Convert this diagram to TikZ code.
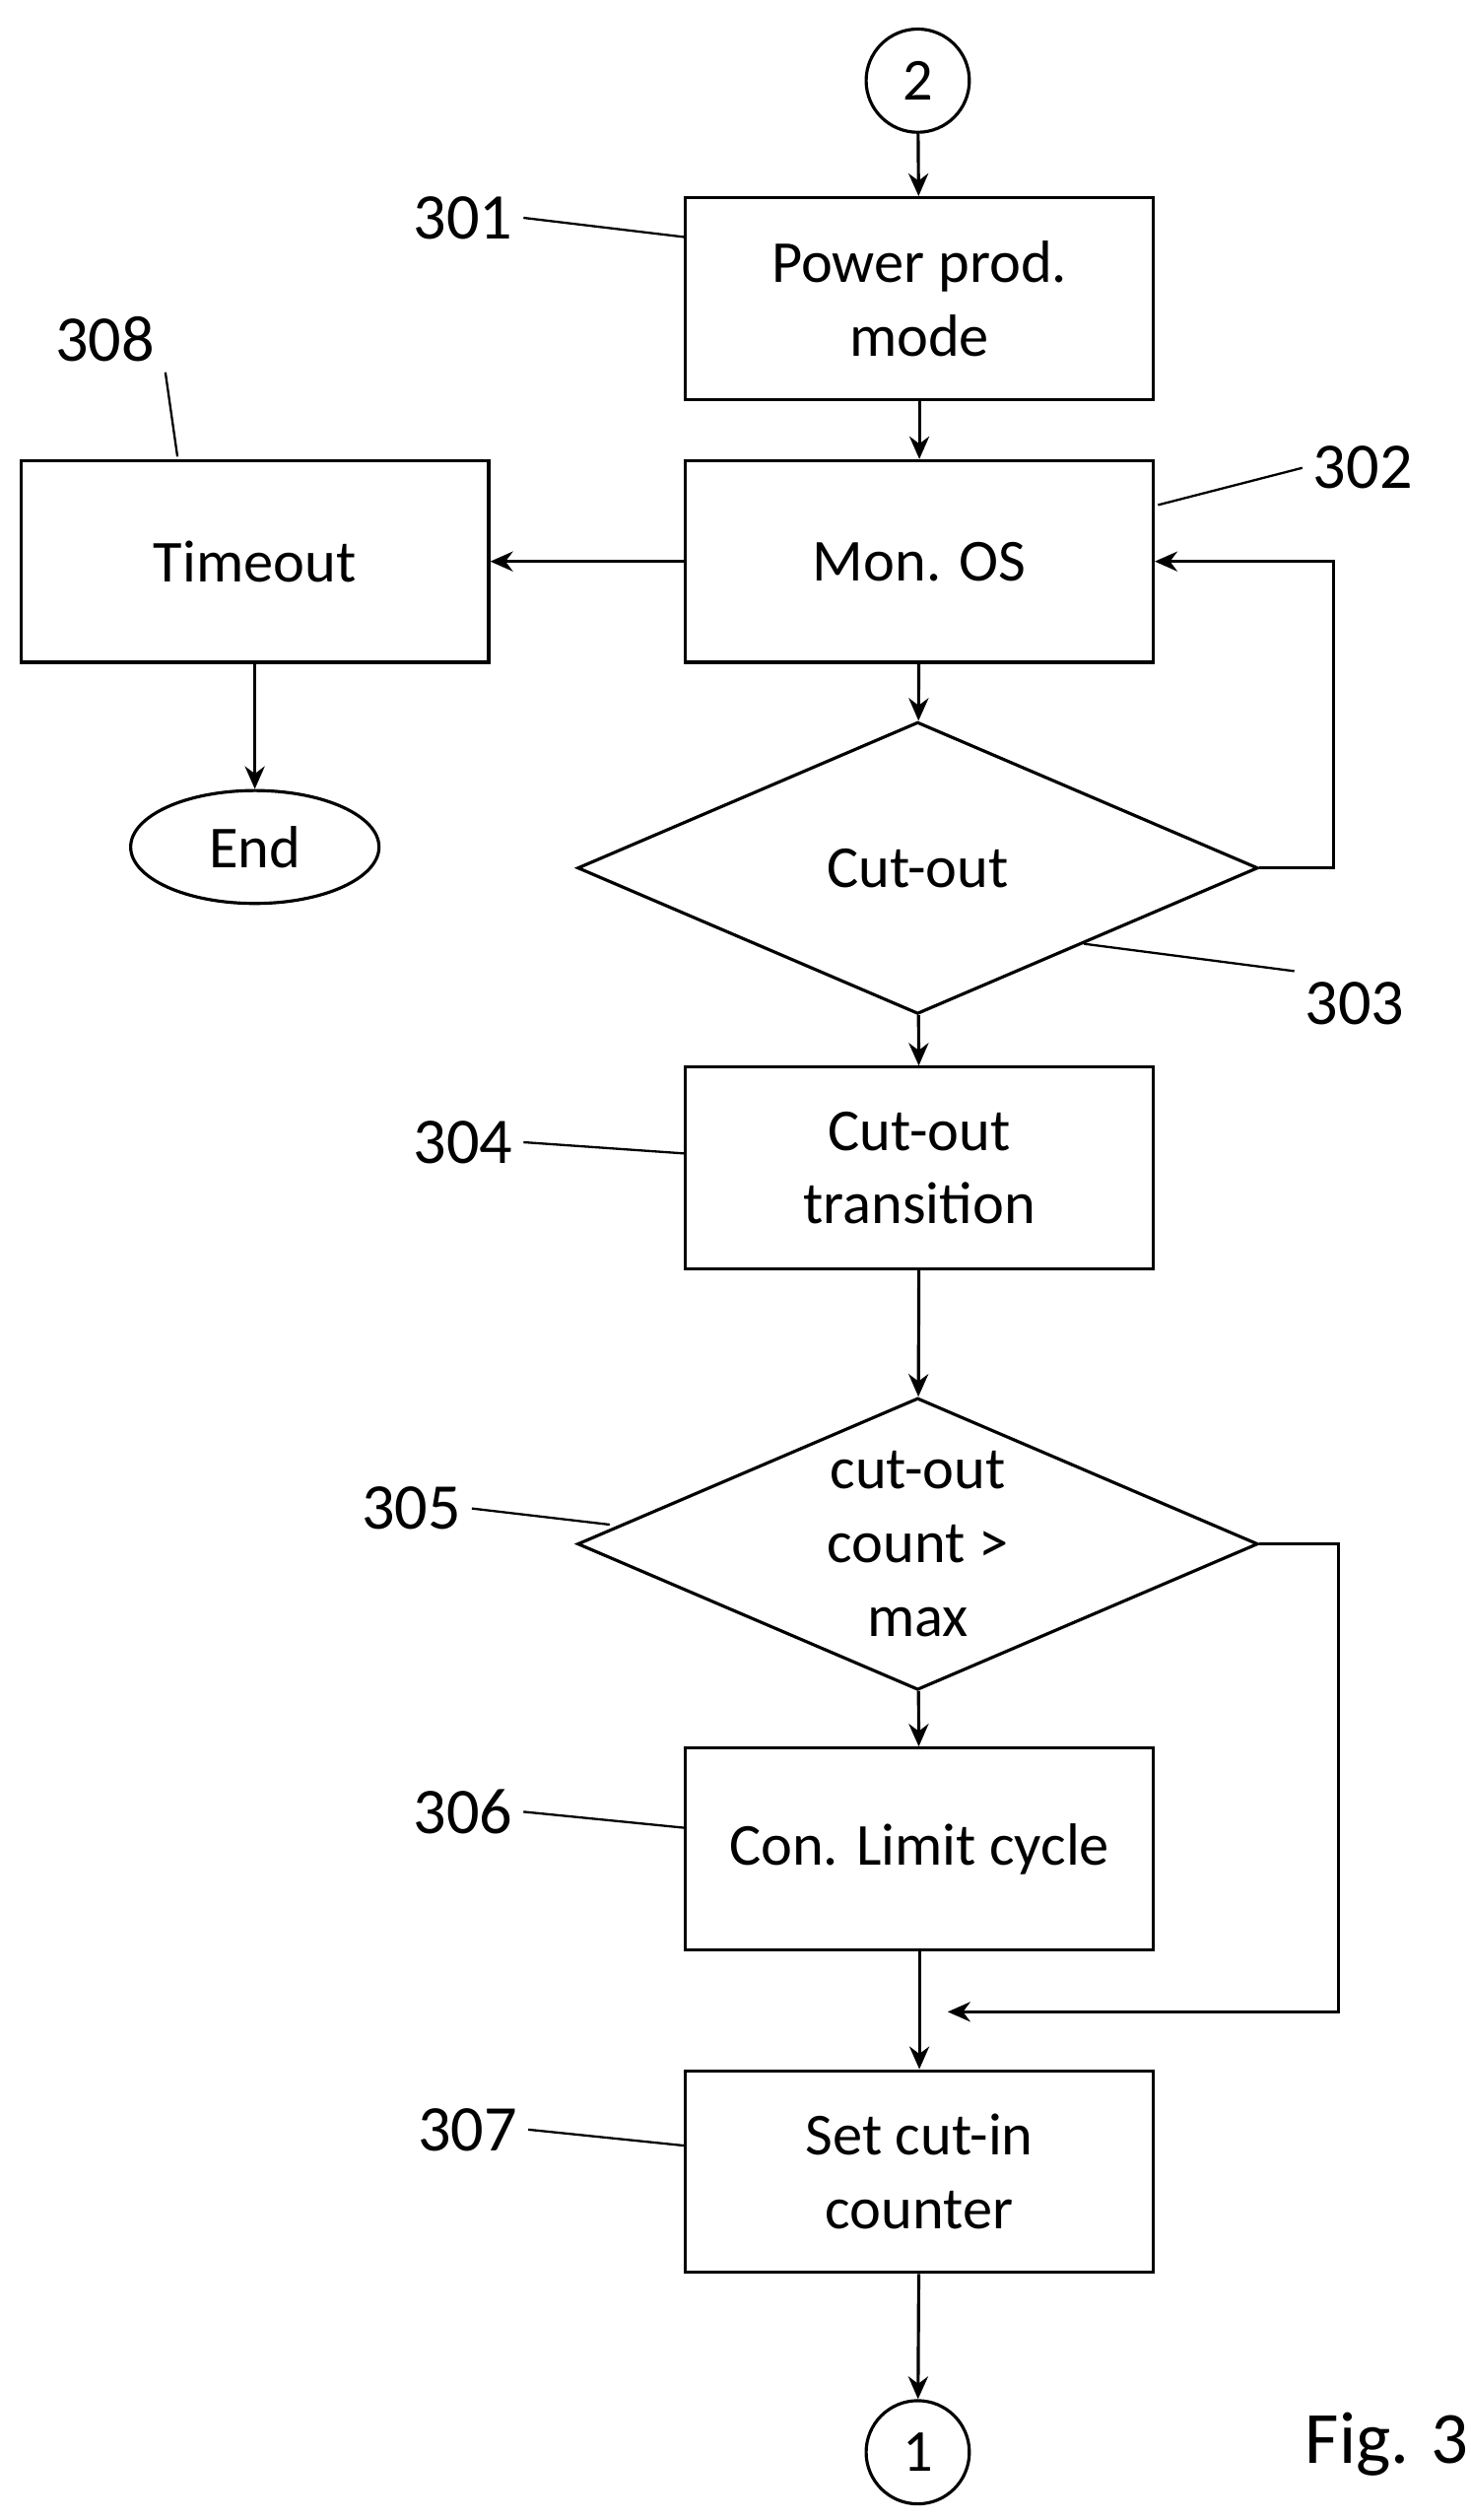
\documentclass[tikz,border=0pt]{standalone}
\usepackage{fontspec}
\setmainfont{Carlito}
\usetikzlibrary{arrows.meta,shapes.geometric,positioning}
\tikzstyle{StepBox}=[draw,rectangle,minimum width=5.8cm,minimum height=2.5cm,align=center]
\tikzstyle{TestDiamond}=[draw,diamond,aspect=2.33,minimum width=8.44cm,minimum height=3.62cm,inner sep=0pt,align=center]
\tikzstyle{Connector}=[draw,circle,minimum size=1.28cm,inner sep=0pt]
\tikzstyle{RefLabel}=[font=\fontsize{23}{27}\selectfont]
\begin{document}
\begin{tikzpicture}[x=0.02cm,y=-0.02cm,line width=1.1pt,>={Stealth[length=8pt,width=7pt]},
  every node/.style={font=\fontsize{21}{26}\selectfont}]
  \useasboundingbox (0,0) rectangle (912,1562);
  % flow chain
  \node[Connector](Two) at (569,50){2};
  \node[StepBox](PowerProd) at (570,185){Power prod.\\mode};
  \node[StepBox](MonOS) at (570,348){Mon. OS};
  \node[StepBox](Timeout) at (158,348){Timeout};
  \node[draw,ellipse,minimum width=3.08cm,minimum height=1.4cm](End) at (158,525){End};
  \node[TestDiamond](CutOut) at (569,538){Cut-out};
  \node[StepBox](CutOutTrans) at (570,724){Cut-out\\transition};
  \node[TestDiamond](CountMax) at (569,957){cut-out\\count >\\max};
  \node[StepBox](LimitCycle) at (570,1146){Con. Limit cycle};
  \node[StepBox](CutInCounter) at (570,1346){Set cut-in\\counter};
  \node[Connector](One) at (569,1520){1};
  \node[font=\fontsize{26}{30}\selectfont](FigLabel) at (860,1515){Fig. 3};
  \coordinate (Merge) at (570,1247);

  \draw[->] (Two) -- (PowerProd);
  \draw[->] (PowerProd) -- (MonOS);
  \draw[->] (MonOS) -- (Timeout);
  \draw[->] (Timeout) -- (End);
  \draw[->] (MonOS) -- (CutOut);
  \draw[->] (CutOut.east) -- ++(46,0) |- (MonOS.east);
  \draw[->] (CutOut) -- (CutOutTrans);
  \draw[->] (CutOutTrans) -- (CountMax);
  \draw[->] (CountMax) -- (LimitCycle);
  \draw[->] (CountMax.east) -- ++(49,0) |- ([xshift=10]Merge);
  \draw[->] (LimitCycle) -- (CutInCounter);
  \draw[->] (CutInCounter) -- (One);

  % reference numerals
  \node[RefLabel](R301) at (287,135){301};
  \node[RefLabel](R302) at (845,290){302};
  \node[RefLabel](R303) at (840,622){303};
  \node[RefLabel](R304) at (287,708){304};
  \node[RefLabel](R305) at (255,935){305};
  \node[RefLabel](R306) at (287,1123){306};
  \node[RefLabel](R307) at (290,1320){307};
  \node[RefLabel](R308) at (65,210){308};
  \draw[line width=0.8pt] (R301.east) -- (425,147);
  \draw[line width=0.8pt] (R302.west) -- (718,313);
  \draw[line width=0.8pt] (R303.north west) -- (672,585);
  \draw[line width=0.8pt] (R304.east) -- (425,715);
  \draw[line width=0.8pt] (R305.east) -- (378,945);
  \draw[line width=0.8pt] (R306.east) -- (425,1133);
  \draw[line width=0.8pt] (R307.east) -- (425,1330);
  \draw[line width=0.8pt] (R308.south east) -- (110,283);
\end{tikzpicture}
\end{document}
